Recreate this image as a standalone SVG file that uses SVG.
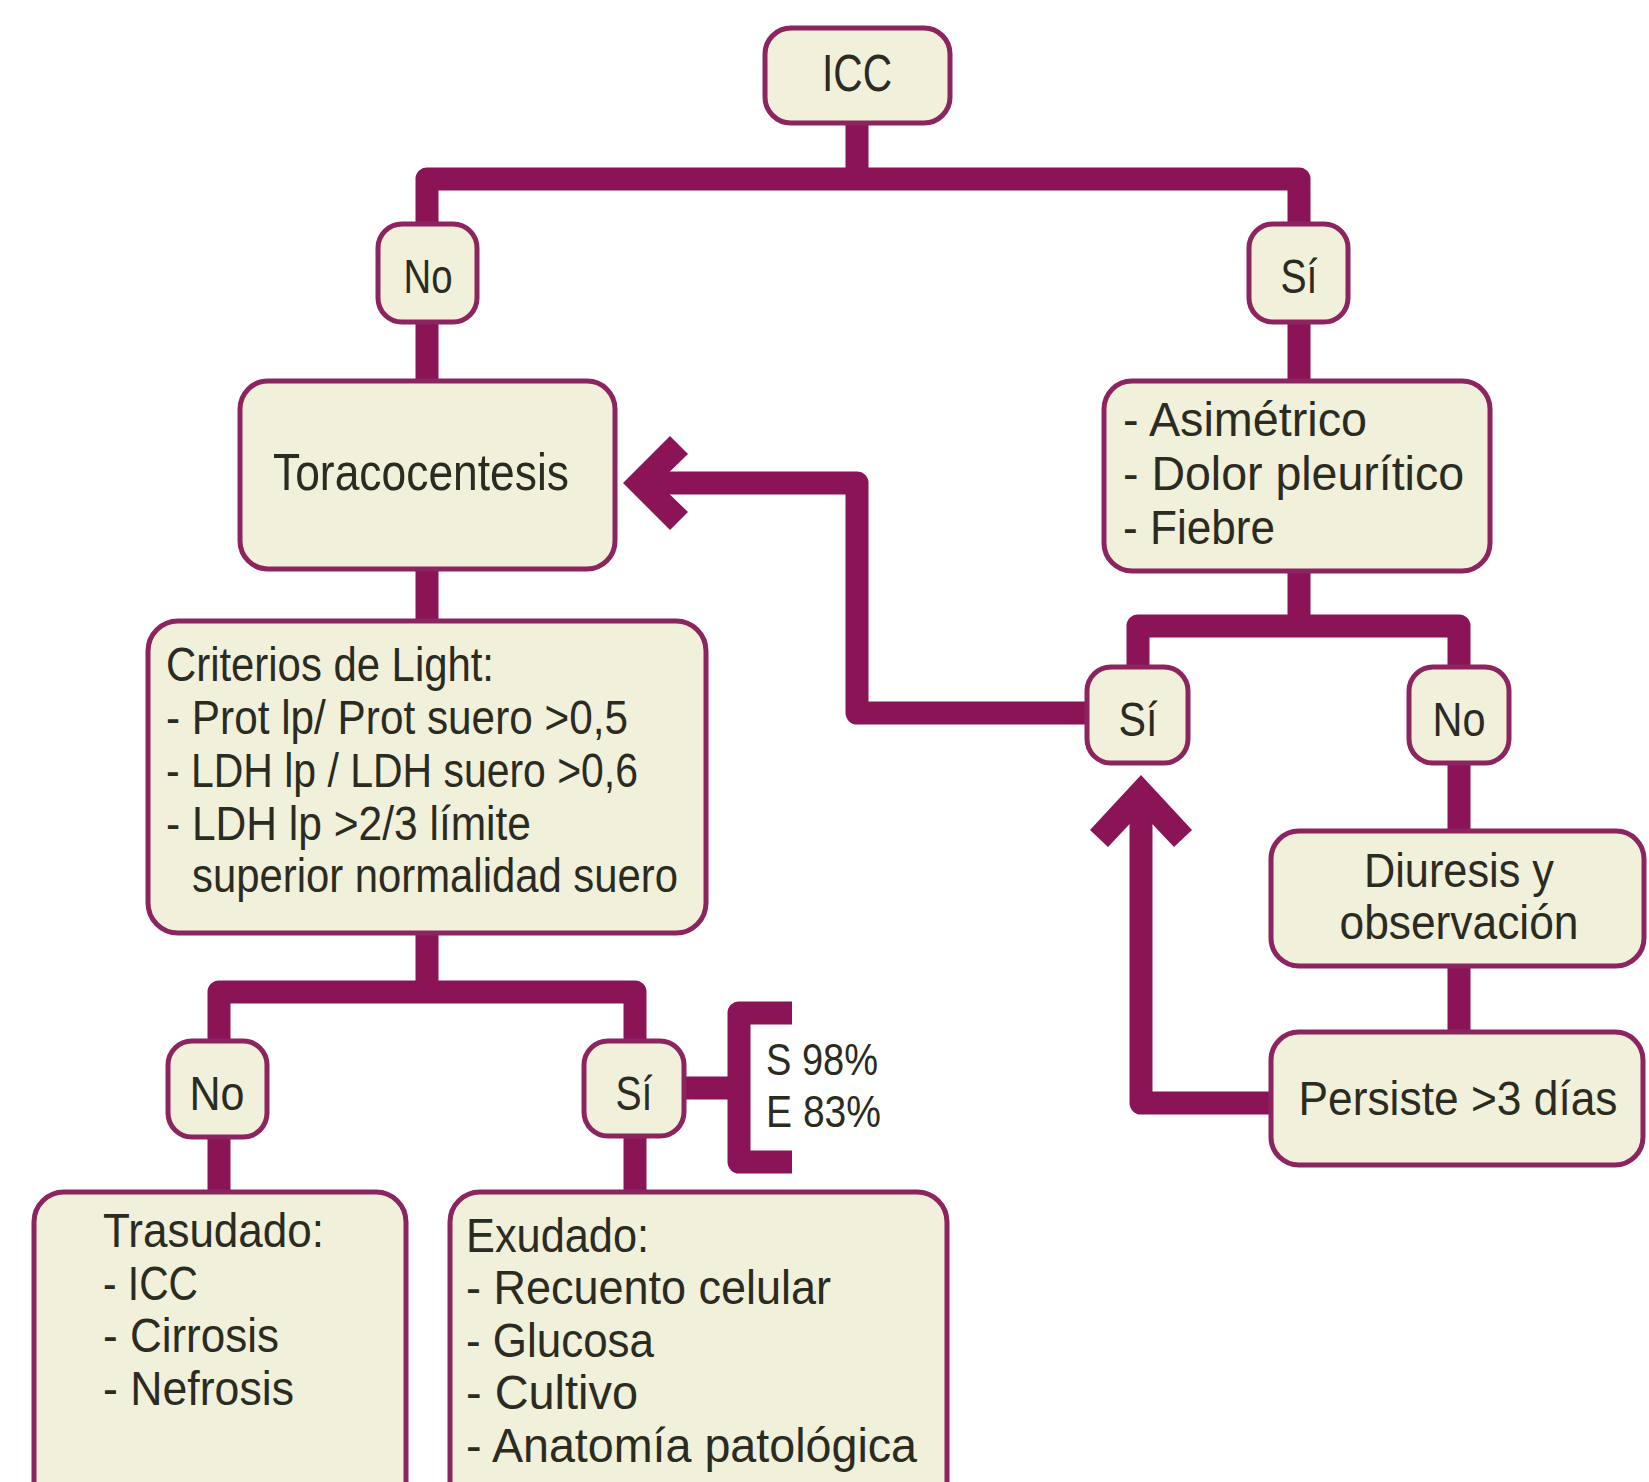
<svg xmlns="http://www.w3.org/2000/svg" width="1649" height="1482" viewBox="0 0 1649 1482">
<style>
.box{fill:#f1f0da;stroke:#8c2460;stroke-width:5}
.ln{fill:none;stroke:#8b1457;stroke-width:23;stroke-linejoin:round;stroke-linecap:butt}
.ah{fill:#8b1457}
text{font-family:"Liberation Sans Narrow","Liberation Sans",Arial,sans-serif;font-size:48px;fill:#2b2b22}
.c{text-anchor:middle}
.big{font-size:52px}
.sm{font-size:44px}
</style>
<rect width="1649" height="1482" fill="#ffffff"/>
<g id="connectors">
<path class="ln" d="M857 123 V179"/>
<path class="ln" d="M427 226 V179 H1299 V226"/>
<path class="ln" d="M427 322 V382"/>
<path class="ln" d="M1299 322 V382"/>
<path class="ln" d="M1299 569 V626"/>
<path class="ln" d="M1138 668 V626 H1459 V668"/>
<path class="ln" d="M1459 763 V832"/>
<path class="ln" d="M1459 966 V1033"/>
<path class="ln" d="M427 569 V622"/>
<path class="ln" d="M427 933 V992"/>
<path class="ln" d="M219 1042 V992 H635 V1042"/>
<path class="ln" d="M219 1136 V1193"/>
<path class="ln" d="M635 1136 V1193"/>
<path class="ln" d="M684 1088 H739"/>
<path class="ln" d="M792 1013 H739 V1162 H792"/>
<path class="ln" d="M1088 713 H857 V483 H655"/>
<polygon class="ah" points="623,483 670,436 688,454 658,483 688,512 670,530"/>
<path class="ln" d="M1272 1103 H1141 V808"/>
<polygon class="ah" points="1141,775 1090,830 1108,847 1141,812 1174,847 1192,830"/>
</g>
<g id="n-icc">
<rect class="box" x="765" y="28" width="185" height="95" rx="26"/>
<text class="c big" x="857" y="91" textLength="70" lengthAdjust="spacingAndGlyphs">ICC</text>
</g>
<g id="n-no1">
<rect class="box" x="378" y="224" width="99" height="98" rx="24"/>
<text class="c" x="428" y="293" textLength="49" lengthAdjust="spacingAndGlyphs">No</text>
</g>
<g id="n-si1">
<rect class="box" x="1249" y="224" width="99" height="98" rx="24"/>
<text class="c" x="1299" y="293" textLength="37" lengthAdjust="spacingAndGlyphs">Sí</text>
</g>
<g id="n-toraco">
<rect class="box" x="240" y="381" width="375" height="188" rx="28"/>
<text x="273" y="490" class="big" textLength="296" lengthAdjust="spacingAndGlyphs">Toracocentesis</text>
</g>
<g id="n-asim">
<rect class="box" x="1104" y="381" width="386" height="190" rx="28"/>
<text x="1123" y="436" textLength="244" lengthAdjust="spacingAndGlyphs">- Asimétrico</text>
<text x="1123" y="490" textLength="341" lengthAdjust="spacingAndGlyphs">- Dolor pleurítico</text>
<text x="1123" y="544" textLength="152" lengthAdjust="spacingAndGlyphs">- Fiebre</text>
</g>
<g id="n-si2">
<rect class="box" x="1087" y="667" width="101" height="96" rx="24"/>
<text class="c" x="1138" y="736" textLength="39" lengthAdjust="spacingAndGlyphs">Sí</text>
</g>
<g id="n-no2">
<rect class="box" x="1409" y="667" width="100" height="96" rx="24"/>
<text class="c" x="1459" y="736" textLength="53" lengthAdjust="spacingAndGlyphs">No</text>
</g>
<g id="n-diuresis">
<rect class="box" x="1271" y="831" width="373" height="135" rx="28"/>
<text class="c" x="1459" y="887" textLength="190" lengthAdjust="spacingAndGlyphs">Diuresis y</text>
<text class="c" x="1459" y="939" textLength="239" lengthAdjust="spacingAndGlyphs">observación</text>
</g>
<g id="n-persiste">
<rect class="box" x="1271" y="1032" width="372" height="133" rx="28"/>
<text class="c" x="1458" y="1115" textLength="319" lengthAdjust="spacingAndGlyphs">Persiste &gt;3 días</text>
</g>
<g id="n-criterios">
<rect class="box" x="148" y="621" width="558" height="312" rx="30"/>
<text x="166" y="681" textLength="328" lengthAdjust="spacingAndGlyphs">Criterios de Light:</text>
<text x="166" y="734" textLength="462" lengthAdjust="spacingAndGlyphs">- Prot lp/ Prot suero &gt;0,5</text>
<text x="166" y="787" textLength="472" lengthAdjust="spacingAndGlyphs">- LDH lp / LDH suero &gt;0,6</text>
<text x="166" y="840" textLength="365" lengthAdjust="spacingAndGlyphs">- LDH lp &gt;2/3 límite</text>
<text x="192" y="892" textLength="486" lengthAdjust="spacingAndGlyphs">superior normalidad suero</text>
</g>
<g id="n-no3">
<rect class="box" x="168" y="1041" width="99" height="96" rx="24"/>
<text class="c" x="217" y="1110" textLength="55" lengthAdjust="spacingAndGlyphs">No</text>
</g>
<g id="n-si3">
<rect class="box" x="584" y="1041" width="100" height="95" rx="24"/>
<text class="c" x="634" y="1110" textLength="37" lengthAdjust="spacingAndGlyphs">Sí</text>
</g>
<g id="n-stats">
<text class="sm" x="766" y="1075" textLength="112" lengthAdjust="spacingAndGlyphs">S 98%</text>
<text class="sm" x="766" y="1127" textLength="115" lengthAdjust="spacingAndGlyphs">E 83%</text>
</g>
<g id="n-trasudado">
<rect class="box" x="34" y="1192" width="372" height="340" rx="30"/>
<text x="103" y="1247" textLength="221" lengthAdjust="spacingAndGlyphs">Trasudado:</text>
<text x="103" y="1300" textLength="95" lengthAdjust="spacingAndGlyphs">- ICC</text>
<text x="103" y="1352" textLength="176" lengthAdjust="spacingAndGlyphs">- Cirrosis</text>
<text x="103" y="1405" textLength="191" lengthAdjust="spacingAndGlyphs">- Nefrosis</text>
</g>
<g id="n-exudado">
<rect class="box" x="450" y="1192" width="497" height="340" rx="30"/>
<text x="466" y="1252" textLength="183" lengthAdjust="spacingAndGlyphs">Exudado:</text>
<text x="466" y="1304" textLength="365" lengthAdjust="spacingAndGlyphs">- Recuento celular</text>
<text x="466" y="1357" textLength="188" lengthAdjust="spacingAndGlyphs">- Glucosa</text>
<text x="466" y="1409" textLength="172" lengthAdjust="spacingAndGlyphs">- Cultivo</text>
<text x="466" y="1462" textLength="451" lengthAdjust="spacingAndGlyphs">- Anatomía patológica</text>
</g>
</svg>
